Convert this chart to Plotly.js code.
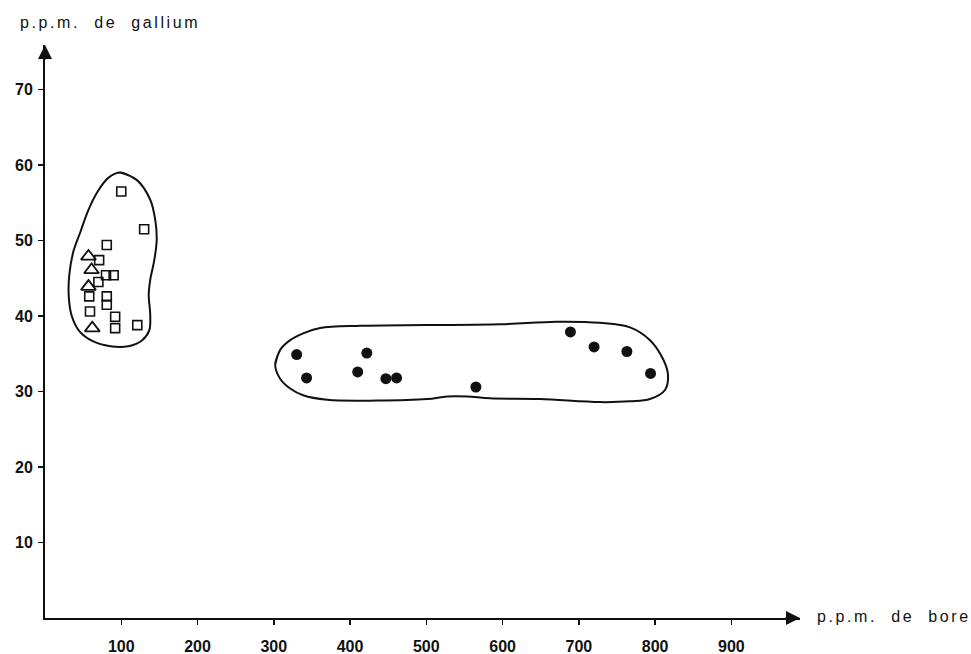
<!DOCTYPE html>
<html>
<head>
<meta charset="utf-8">
<script src="https://cdn.plot.ly/plotly-3.0.1.min.js"></script>
<style>
  html, body { margin: 0; padding: 0; background: #fff; }
  #chart { width: 971px; height: 654px; }
  .annotation-text { letter-spacing: 2.6px; }
</style>
</head>
<body>
<div id="chart"></div>
<script>
// ---- data ----
// filled circles (lower-right cluster)
const dotBore    = [330, 343, 422, 410, 447, 461, 565, 689, 720, 763, 794];
const dotGallium = [34.9, 31.8, 35.1, 32.6, 31.7, 31.8, 30.6, 37.9, 35.9, 35.3, 32.4];

// open squares (upper-left cluster)
const sqBore    = [100, 130, 81, 71, 80, 90, 70, 58, 81, 81, 59, 92, 92, 121];
const sqGallium = [56.5, 51.5, 49.4, 47.4, 45.4, 45.4, 44.5, 42.6, 42.6, 41.5, 40.6, 39.9, 38.4, 38.8];

// open triangles (upper-left cluster)
const triBore    = [57, 61, 57, 62];
const triGallium = [47.9, 46.1, 43.9, 38.4];

// hand-drawn envelope around the left cluster
const envLeftBore    = [98.7, 120.6, 138.0, 144.6, 146.5, 143.3, 138.0, 136.0, 138.0, 136.7, 127.5, 109.2, 85.6, 62.0, 45.0, 35.1, 31.2, 31.8, 37.1, 46.3, 56.7, 68.5, 83.0, 98.7, 120.6];
const envLeftGallium = [59.0, 58.0, 55.4, 52.7, 50.1, 47.4, 44.8, 42.8, 40.1, 38.1, 36.8, 36.0, 36.0, 36.7, 38.0, 40.0, 42.5, 45.4, 48.5, 51.1, 54.0, 56.4, 58.3, 59.0, 58.0];

// hand-drawn envelope around the right cluster
const envRightBore    = [301.8, 308.3, 321.5, 338.5, 360.8, 413.2, 501.0, 596.7, 671.0, 727.7, 767.1, 793.3, 810.4, 816.9, 813.0, 793.3, 767.1, 727.7, 649.1, 583.6, 553.5, 527.3, 501.0, 435.5, 370.0, 338.5, 321.5, 308.3, 301.8, 308.3];
const envRightGallium = [33.5, 35.5, 36.8, 37.7, 38.4, 38.7, 38.8, 38.9, 39.25, 39.1, 38.5, 36.8, 34.3, 32.2, 30.2, 29.0, 28.7, 28.6, 29.0, 29.1, 29.35, 29.35, 29.0, 28.8, 28.9, 29.5, 30.4, 31.7, 33.5, 35.5];

// ticks and labels
const xTicks = [100, 200, 300, 400, 500, 600, 700, 800, 900];
const yTicks = [10, 20, 30, 40, 50, 60, 70];
const xTitle = "p.p.m.  de  bore";
const yTitle = "p.p.m.  de  gallium";

// ---- chart ----
const ink = "#111";
const traces = [
  { x: envLeftBore, y: envLeftGallium, mode: "lines", type: "scatter",
    line: { color: ink, width: 2, shape: "spline", smoothing: 1 }, hoverinfo: "skip" },
  { x: envRightBore, y: envRightGallium, mode: "lines", type: "scatter",
    line: { color: ink, width: 2, shape: "spline", smoothing: 1 }, hoverinfo: "skip" },
  { x: sqBore, y: sqGallium, mode: "markers", type: "scatter",
    marker: { symbol: "square-open", size: 9, color: ink, line: { width: 1.6, color: ink } } },
  { x: triBore, y: triGallium, mode: "markers", type: "scatter",
    marker: { symbol: "triangle-up-open", size: 13, color: ink, line: { width: 1.8, color: ink } } },
  { x: dotBore, y: dotGallium, mode: "markers", type: "scatter",
    marker: { symbol: "circle", size: 11, color: ink } }
];

const layout = {
  width: 971, height: 654,
  paper_bgcolor: "#fff", plot_bgcolor: "#fff",
  showlegend: false,
  margin: { l: 45, r: 171, t: 45, b: 36, pad: 0 },
  xaxis: {
    range: [0, 990], tickvals: xTicks, ticktext: xTicks.map(String),
    showline: true, linecolor: ink, linewidth: 2,
    ticks: "outside", ticklen: 5, tickwidth: 1.5, tickcolor: ink,
    showgrid: false, zeroline: false, ticklabelstandoff: 8,
    tickfont: { family: "Liberation Sans Narrow, Liberation Sans, Arial", size: 16, color: ink, weight: 600 }
  },
  yaxis: {
    range: [0, 75.9], tickvals: yTicks, ticktext: yTicks.map(String),
    showline: true, linecolor: ink, linewidth: 2,
    ticks: "outside", ticklen: 5, tickwidth: 1.5, tickcolor: ink,
    showgrid: false, zeroline: false, ticklabelstandoff: 2,
    tickfont: { family: "Liberation Sans, Arial", size: 16, color: ink, weight: 600 }
  },
  annotations: [
    { xref: "paper", yref: "paper", x: 1, y: 0, ax: -16, ay: 0, text: "",
      showarrow: true, arrowhead: 2, arrowsize: 1.4, arrowwidth: 2, arrowcolor: ink },
    { xref: "paper", yref: "paper", x: 0, y: 1, ax: 0, ay: 16, text: "",
      showarrow: true, arrowhead: 2, arrowsize: 1.4, arrowwidth: 2, arrowcolor: ink },
    { xref: "paper", yref: "paper", x: 1.0195, y: 0.002, xanchor: "left", yanchor: "middle",
      text: xTitle, showarrow: false,
      font: { family: "Liberation Sans, Arial", size: 16, color: ink } },
    { xref: "paper", yref: "paper", x: -0.0354, y: 1.040, xanchor: "left", yanchor: "middle",
      text: yTitle, showarrow: false,
      font: { family: "Liberation Sans, Arial", size: 16, color: ink } }
  ]
};

Plotly.newPlot("chart", traces, layout, { displayModeBar: false, staticPlot: true });
</script>
</body>
</html>
